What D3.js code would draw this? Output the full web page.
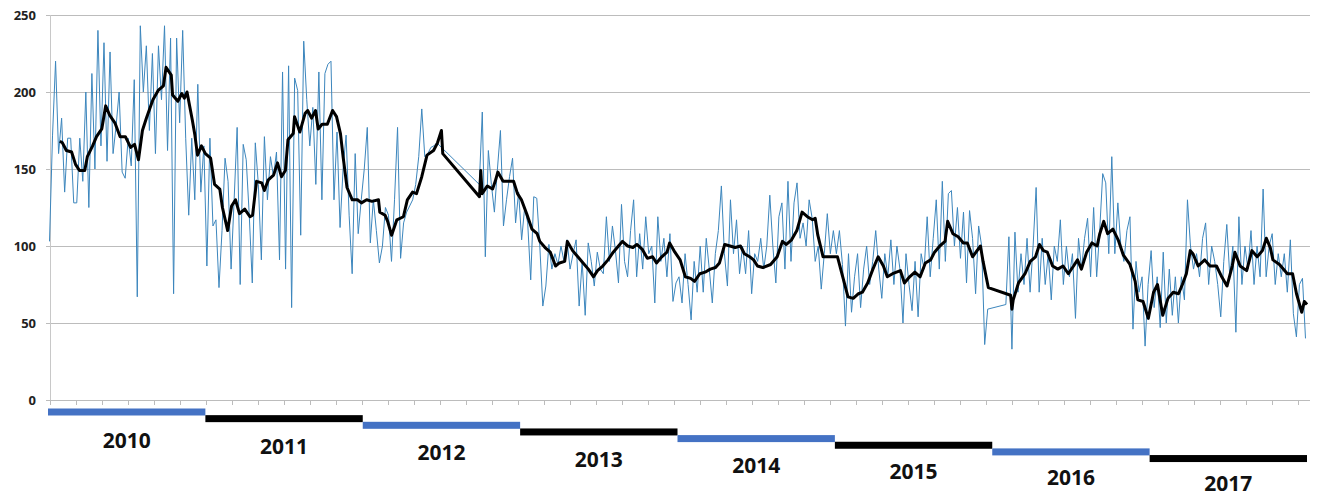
<!DOCTYPE html>
<html>
<head>
<meta charset="utf-8">
<script src="https://cdn.jsdelivr.net/npm/d3@7"></script>
<style>
  body { margin: 0; background: #fff; }
  svg { display: block; }
</style>
</head>
<body>
<script>
// ---------- DATA ----------
const years = [2010, 2011, 2012, 2013, 2014, 2015, 2016, 2017];
const yearLabels = ["2010", "2011", "2012", "2013", "2014", "2015", "2016", "2017"];
const yTicks = [0, 50, 100, 150, 200, 250];

// weekly values (52 per year), null = no data
const blue2010 = [103,172,220,160,183,135,170,170,128,128,
  170,142,200,125,212,150,240,165,232,155,
  226,160,178,200,148,144,170,152,208,67,
  243,200,230,175,225,160,230,195,243,162,
  235,69,235,180,240,170,120,170,130,205,
  135,165];
const blue2011 = [87,170,113,117,73,110,157,142,85,130,
  177,75,166,156,120,76,167,140,91,171,
  130,158,145,161,91,213,85,217,60,209,
  201,107,233,195,165,190,140,213,130,212,
  218,220,130,174,112,150,172,120,82,160,
  108,130];
const blue2012 = [150,177,102,130,110,89,100,125,120,90,
  130,177,92,115,122,126,130,140,158,189,
  158,160,164,165,167,165,null,null,null,null,
  null,null,null,null,null,null,null,null,140,187,
  93,162,140,122,150,175,113,130,145,157,
  115,135];
const blue2013 = [104,125,115,78,132,131,100,61,74,101,
  85,95,88,100,90,104,85,95,104,61,
  90,55,102,90,74,96,85,82,119,90,
  113,97,76,127,90,80,110,130,80,108,
  85,119,95,100,63,119,90,105,80,108,
  64,76];
const blue2014 = [80,63,95,75,52,90,70,100,70,105,
  85,63,95,110,139,95,74,130,95,117,
  82,100,82,110,69,95,90,105,85,100,
  133,100,76,119,128,85,142,90,128,141,
  105,115,100,130,118,90,100,72,95,121,
  95,110];
const blue2015 = [95,110,88,48,95,57,80,95,60,85,
  100,75,90,110,85,66,95,80,104,75,
  100,85,50,95,75,58,90,54,95,85,
  119,80,105,130,85,142,90,134,136,100,
  125,92,122,76,123,105,69,113,100,36,
  59,null];
const blue2016 = [null,null,null,null,62,106,33,109,70,95,
  75,105,70,100,138,70,105,75,95,65,
  100,90,117,75,100,80,95,53,105,85,
  105,118,80,125,80,110,147,141,95,158,
  95,128,100,90,110,119,46,90,70,80,
  35,75];
const blue2017 = [97,60,80,47,96,50,85,55,80,50,
  80,65,130,100,85,95,80,105,115,75,
  100,90,75,54,90,114,80,100,44,119,
  75,100,85,110,75,100,80,137,80,100,
  108,75,95,80,95,70,104,56,41,75,
  79,40];

// smoothed series: [month within year, value]
const smooth2010 = [[0.9,168],[1.1,167],[1.4,162],[1.8,161],[2.1,153],[2.4,149],[2.8,149],[3.0,158],[3.4,165],[3.7,171],[4.1,176],[4.4,191],[4.7,185],[5.1,180],[5.5,171],[5.9,171],[6.3,164],[6.6,166],[6.9,156],[7.2,175],[7.5,183],[8.0,195],[8.4,201],[8.8,204],[9.0,216],[9.4,211],[9.5,198],[9.9,194],[10.2,199],[10.4,196],[10.6,200],[11.0,182],[11.2,172],[11.4,159],[11.7,165]];
const smooth2011 = [[0.0,160],[0.4,157],[0.7,140],[1.1,137],[1.3,125],[1.7,110],[2.0,126],[2.3,130],[2.6,121],[3.0,124],[3.4,119],[3.6,120],[3.9,142],[4.3,141],[4.5,136],[4.8,143],[5.2,146],[5.5,154],[5.8,145],[6.1,149],[6.3,169],[6.7,173],[6.8,184],[7.2,174],[7.6,186],[7.8,188],[8.1,183],[8.4,188],[8.6,176],[8.9,179],[9.3,179],[9.7,188],[10.0,184],[10.3,173],[10.5,158],[10.8,138],[11.2,130],[11.6,130],[11.9,128]];
const smooth2012 = [[0.3,130],[0.7,129],[1.2,130],[1.3,122],[1.7,120],[1.9,116],[2.2,107],[2.6,117],[3.1,119],[3.4,130],[3.8,135],[4.1,134],[4.5,145],[4.9,159],[5.4,162],[5.7,167],[6.0,175],[6.1,160],[8.9,132],[9.0,149],[9.1,134],[9.5,139],[9.9,137],[10.1,142],[10.3,148],[10.7,142],[11.2,142],[11.5,142],[11.8,134]];
const smooth2013 = [[0.1,130],[0.5,121],[0.9,111],[1.3,108],[1.5,103],[1.9,99],[2.3,96],[2.7,87],[3.0,89],[3.4,90],[3.6,103],[4.0,97],[4.4,93],[4.8,89],[5.2,85],[5.6,80],[5.9,84],[6.3,87],[6.7,91],[7.1,96],[7.5,100],[7.8,103],[8.2,100],[8.6,99],[8.9,101],[9.3,98],[9.7,92],[10.1,93],[10.4,89],[10.8,93],[11.2,96],[11.4,102],[11.8,96]];
const smooth2014 = [[0.2,91],[0.6,80],[1.0,79],[1.3,77],[1.7,82],[2.1,83],[2.5,85],[2.9,86],[3.2,89],[3.6,101],[4.0,100],[4.4,99],[4.8,100],[5.1,95],[5.5,93],[5.8,91],[6.1,87],[6.5,86],[7.1,88],[7.6,93],[8.0,103],[8.3,101],[8.7,104],[9.1,110],[9.5,122],[9.9,119],[10.3,117],[10.5,118],[10.7,107],[11.1,93],[11.6,93]];
const smooth2015 = [[0.2,93],[0.6,80],[1.0,67],[1.4,66],[1.8,69],[2.1,70],[2.5,76],[2.9,85],[3.3,93],[3.7,87],[4.0,80],[4.4,82],[5.0,84],[5.3,76],[5.7,80],[6.1,83],[6.5,80],[6.9,89],[7.3,91],[7.6,96],[8.0,100],[8.4,103],[8.6,116],[9.0,108],[9.4,106],[9.8,102],[10.1,102],[10.5,93],[11.1,100],[11.3,90],[11.7,73]];
const smooth2016 = [[1.4,68],[1.5,59],[1.6,65],[2.0,76],[2.5,82],[2.9,90],[3.3,93],[3.6,101],[3.9,97],[4.2,96],[4.6,87],[5.0,85],[5.4,87],[5.8,82],[6.2,87],[6.5,91],[6.8,85],[7.2,96],[7.6,102],[8.0,100],[8.2,108],[8.5,116],[8.8,108],[9.2,111],[9.6,104],[10.0,94],[10.5,88],[10.9,77],[11.1,65],[11.5,64],[11.9,53]];
const smooth2017 = [[0.3,70],[0.6,75],[1.0,55],[1.4,66],[1.8,70],[2.2,69],[2.5,75],[2.8,82],[3.1,97],[3.3,95],[3.7,87],[4.2,91],[4.6,87],[5.1,87],[5.5,80],[5.9,74],[6.3,87],[6.5,96],[6.9,87],[7.4,84],[7.8,97],[8.2,93],[8.6,97],[8.9,105],[9.2,99],[9.4,91],[9.9,88],[10.5,82],[10.9,82],[11.2,69],[11.6,57],[11.8,64],[12.0,62]];

const blueByYear = [blue2010, blue2011, blue2012, blue2013, blue2014, blue2015, blue2016, blue2017];
const smoothByYear = [smooth2010, smooth2011, smooth2012, smooth2013, smooth2014, smooth2015, smooth2016, smooth2017];

// ---------- CHART ----------
const W = 1318, H = 497;
const svg = d3.select("body").append("svg").attr("width", W).attr("height", H);

const x = d3.scaleLinear().domain([0, 96]).range([48, 1307]);     // months since Jan 2010
const y = d3.scaleLinear().domain([0, 250]).range([400, 15]);
const tickScale = d3.scaleLinear().domain([0, 48]).range([50, 1298]); // category ticks

// gridlines
svg.append("g").selectAll("line").data(yTicks).join("line")
  .attr("x1", 46).attr("x2", 1310)
  .attr("y1", d => Math.round(y(d)) + 0.5).attr("y2", d => Math.round(y(d)) + 0.5)
  .attr("stroke", "#bcbcbc").attr("stroke-width", 1);

// vertical axis line
svg.append("line").attr("x1", 50.5).attr("x2", 50.5)
  .attr("y1", y(250)).attr("y2", y(0))
  .attr("stroke", "#c8c8c8").attr("stroke-width", 1);

// x ticks
svg.append("g").selectAll("line").data(d3.range(49)).join("line")
  .attr("x1", d => Math.round(tickScale(d)) + 0.5).attr("x2", d => Math.round(tickScale(d)) + 0.5)
  .attr("y1", Math.round(y(0))).attr("y2", Math.round(y(0)) + 5)
  .attr("stroke", "#bcbcbc");

// y labels
svg.append("g").selectAll("text").data(yTicks).join("text")
  .attr("x", 36).attr("y", d => y(d) + 4.5)
  .attr("text-anchor", "end")
  .attr("font-family", "'Open Sans', sans-serif")
  .attr("font-weight", 700).attr("font-size", 13)
  .attr("fill", "#222")
  .text(d => d);

// blue series
const bluePts = [];
blueByYear.forEach((arr, k) => {
  arr.forEach((v, i) => {
    if (v !== null) bluePts.push({ t: k * 12 + (i + 0.5) * 12 / 52, v });
  });
});
const line = d3.line().x(d => x(d.t)).y(d => y(d.v));
svg.append("path").datum(bluePts)
  .attr("d", line)
  .attr("fill", "none").attr("stroke", "#3c86bd")
  .attr("stroke-width", 1).attr("stroke-linejoin", "round");

// black smoothed series
const smoothPts = [];
smoothByYear.forEach((arr, k) => {
  arr.forEach(([m, v]) => smoothPts.push({ t: k * 12 + m, v }));
});
svg.append("path").datum(smoothPts)
  .attr("d", line)
  .attr("fill", "none").attr("stroke", "#000")
  .attr("stroke-width", 3).attr("stroke-linejoin", "round");

// year bars (staircase)
const barColors = ["#4472c4", "#000000"];
svg.append("g").selectAll("rect").data(years).join("rect")
  .attr("x", (d, k) => x(k * 12))
  .attr("width", (d, k) => x((k + 1) * 12) - x(k * 12))
  .attr("y", (d, k) => 408.5 + k * 6.65)
  .attr("height", 7)
  .attr("fill", (d, k) => barColors[k % 2]);

svg.append("g").selectAll("text").data(yearLabels).join("text")
  .attr("x", (d, k) => x(k * 12 + 6))
  .attr("y", (d, k) => 448 + k * 6.2)
  .attr("text-anchor", "middle")
  .attr("font-family", "'Open Sans', sans-serif")
  .attr("font-weight", 700).attr("font-size", 21)
  .attr("fill", "#111")
  .text(d => d);
</script>
</body>
</html>
